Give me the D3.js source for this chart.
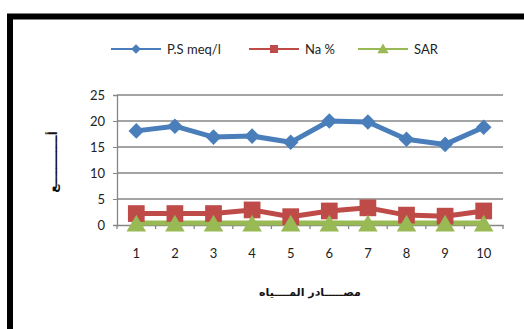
<!DOCTYPE html>
<html><head><meta charset="utf-8">
<script src="https://cdn.jsdelivr.net/npm/d3@7/dist/d3.min.js"></script>
<style>body{margin:0;background:#fff}svg{display:block}</style>
</head><body><svg id="c" width="524" height="329"></svg>
<script>
const categories = ["1","2","3","4","5","6","7","8","9","10"];
const psValues  = [18.1, 19.0, 16.9, 17.1, 15.9, 20.0, 19.8, 16.5, 15.5, 18.8];
const naValues  = [2.2, 2.2, 2.2, 2.9, 1.6, 2.7, 3.3, 1.9, 1.7, 2.7];
const sarValues = [0.4, 0.4, 0.4, 0.4, 0.4, 0.4, 0.4, 0.4, 0.4, 0.4];
const yTicks = [0,5,10,15,20,25];
const seriesNames = ["P.S meq/l","Na %","SAR"];
const colors = ["#4a7ebb","#be4b48","#98b954"];

const svg = d3.select("#c");
const font = "Lato, 'Open Sans', sans-serif";

// frame
svg.append("path").attr("d","M10,329 V16.5 H524").attr("fill","none").attr("stroke","#000").attr("stroke-width",6);

const x = d3.scaleBand().domain(categories).range([117,503]);
const y = d3.scaleLinear().domain([0,25]).range([225,95]);

// gridlines
svg.append("g").selectAll("line").data(yTicks.slice(1)).join("line")
  .attr("x1",117).attr("x2",503).attr("y1",d=>y(d)).attr("y2",d=>y(d))
  .attr("stroke","#868686").attr("stroke-width",1.3);

// y axis
const ya = svg.append("g").attr("transform","translate(117,0)")
  .call(d3.axisLeft(y).tickValues(yTicks).tickSize(4).tickPadding(8));
ya.select(".domain").attr("stroke","#868686").attr("stroke-width",1.3);
ya.selectAll(".tick line").attr("stroke","#868686");
ya.selectAll("text").attr("font-family",font).attr("font-size",13).attr("fill","#222");

// x axis
const xa = svg.append("g").attr("transform","translate(0,225)")
  .call(d3.axisBottom(x).tickSize(0).tickPadding(24));
xa.select(".domain").attr("stroke","#868686").attr("stroke-width",1.3);
xa.selectAll("text").attr("font-family",font).attr("font-size",13).attr("fill","#222");
// between-category tick marks
svg.append("g").selectAll("line").data(d3.range(categories.length+1)).join("line")
  .attr("x1",i=>117+i*x.step()).attr("x2",i=>117+i*x.step())
  .attr("y1",225).attr("y2",229).attr("stroke","#868686").attr("stroke-width",1.3);

const cx = d=>x(d)+x.bandwidth()/2;
const line = vals => d3.line().x((v,i)=>cx(categories[i])).y(v=>y(v))(vals);

const sets = [psValues, naValues, sarValues];
sets.forEach((vals,k)=>{
  svg.append("path").attr("d",line(vals)).attr("fill","none")
    .attr("stroke",colors[k]).attr("stroke-width",5).attr("stroke-linejoin","round");
});
// markers
const syms = [d3.symbol().type(d3.symbolDiamond2).size(155),
              d3.symbol().type(d3.symbolSquare).size(280),
              d3.symbol().type(d3.symbolTriangle).size(165)];
const offs = [0,0,3];
sets.forEach((vals,k)=>{
  svg.append("g").selectAll("path").data(vals).join("path")
    .attr("transform",(v,i)=>`translate(${cx(categories[i])},${y(v)+offs[k]})`)
    .attr("d",syms[k]()).attr("fill",colors[k]);
});

// legend
const legX = [111, 249, 358];
const legSym = [d3.symbol().type(d3.symbolDiamond2).size(60), d3.symbol().type(d3.symbolSquare).size(64), d3.symbol().type(d3.symbolTriangle).size(55)];
seriesNames.forEach((n,k)=>{
  const g = svg.append("g");
  g.append("line").attr("x1",legX[k]).attr("x2",legX[k]+50).attr("y1",49).attr("y2",49)
    .attr("stroke",colors[k]).attr("stroke-width",2.2);
  g.append("path").attr("transform",`translate(${legX[k]+25},${49+(k===2?1:0)})`).attr("d",legSym[k]()).attr("fill",colors[k]);
  g.append("text").attr("x",legX[k]+56).attr("y",53.5).text(n)
    .attr("font-family",font).attr("font-size",13).attr("fill","#222");
});

// x axis title
svg.append("text").attr("x",310).attr("y",296).attr("text-anchor","middle")
  .attr("font-family","'DejaVu Sans', sans-serif").attr("font-weight","bold").attr("font-size",11)
  .attr("fill","#111").attr("direction","rtl").text("مصـــــادر المــــياه");

// y axis title
svg.append("text").attr("transform","translate(57,162) rotate(-90)").attr("text-anchor","middle")
  .attr("font-family","'DejaVu Sans', sans-serif").attr("font-size",12).attr("font-weight","bold")
  .attr("fill","#111").attr("direction","rtl").text("أــــــــــــع");
</script></body></html>
